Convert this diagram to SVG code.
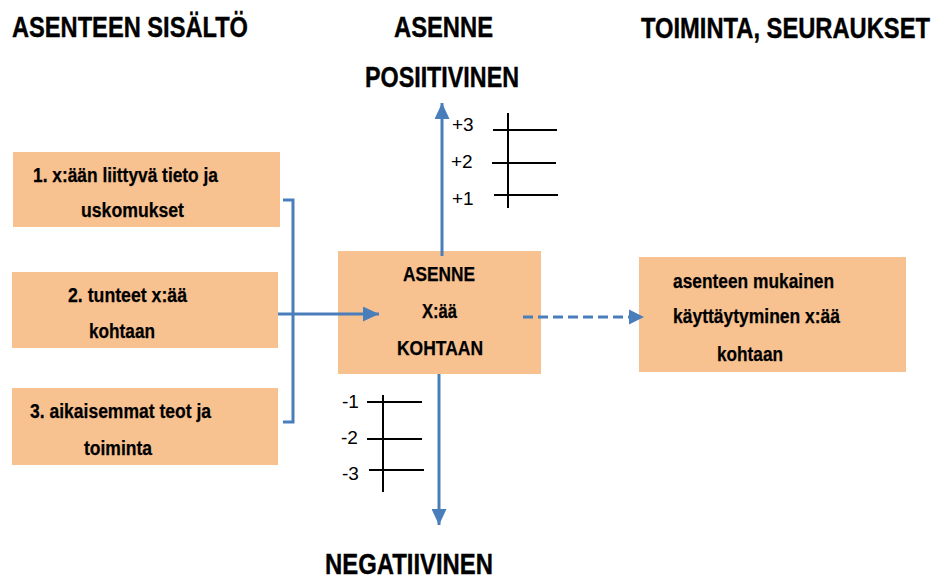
<svg xmlns="http://www.w3.org/2000/svg" width="937" height="581" viewBox="0 0 937 581">
<style>
.h{font-family:"Liberation Sans Narrow","Liberation Sans",Arial,sans-serif;font-weight:bold;font-size:29px;fill:#000;stroke:#000;stroke-width:0.4}
.t{font-family:"Liberation Sans Narrow","Liberation Sans",Arial,sans-serif;font-weight:bold;font-size:20px;fill:#000;stroke:#000;stroke-width:0.25}
.n{font-family:"Liberation Sans Narrow","Liberation Sans",Arial,sans-serif;font-size:19px;fill:#000}
.box{fill:#F8C190}
.blue{stroke:#4A7EBB;stroke-width:3;fill:none}
.blk{stroke:#000;stroke-width:2;fill:none}
</style>
<defs>
<marker id="ah" markerWidth="16" markerHeight="15" refX="16" refY="7.5" orient="auto" markerUnits="userSpaceOnUse">
<path d="M0,0 L16,7.5 L0,15 Z" fill="#4A7EBB"/>
</marker>
</defs>
<rect width="937" height="581" fill="#fff"/>
<g id="headers">
<text class="h" transform="translate(12,37) scale(0.8,1)" textLength="295" lengthAdjust="spacingAndGlyphs">ASENTEEN SISÄLTÖ</text>
<text class="h" transform="translate(394,37) scale(0.8,1)" textLength="123.75" lengthAdjust="spacingAndGlyphs">ASENNE</text>
<text class="h" transform="translate(641,38) scale(0.8,1)" textLength="361.25" lengthAdjust="spacingAndGlyphs">TOIMINTA, SEURAUKSET</text>
<text class="h" transform="translate(365,87) scale(0.8,1)" textLength="192.5" lengthAdjust="spacingAndGlyphs">POSIITIVINEN</text>
<text class="h" transform="translate(325,574) scale(0.8,1)" textLength="210" lengthAdjust="spacingAndGlyphs">NEGATIIVINEN</text>
</g>
<g id="box1">
<rect class="box" x="13" y="152" width="267" height="75"/>
<text class="t" x="33" y="182" textLength="185" lengthAdjust="spacingAndGlyphs">1. x:ään liittyvä tieto ja</text>
<text class="t" x="81" y="217" textLength="103" lengthAdjust="spacingAndGlyphs">uskomukset</text>
</g>
<g id="box2">
<rect class="box" x="12" y="272" width="266" height="76"/>
<text class="t" x="68" y="302" textLength="119" lengthAdjust="spacingAndGlyphs">2. tunteet x:ää</text>
<text class="t" x="89" y="338" textLength="66" lengthAdjust="spacingAndGlyphs">kohtaan</text>
</g>
<g id="box3">
<rect class="box" x="12" y="388" width="266" height="77"/>
<text class="t" x="30" y="418" textLength="181" lengthAdjust="spacingAndGlyphs">3. aikaisemmat teot ja</text>
<text class="t" x="84" y="455" textLength="68" lengthAdjust="spacingAndGlyphs">toiminta</text>
</g>
<g id="center">
<rect class="box" x="338" y="251" width="203" height="123"/>
<text class="t" x="403" y="281" textLength="72" lengthAdjust="spacingAndGlyphs">ASENNE</text>
<text class="t" x="422" y="318" textLength="35" lengthAdjust="spacingAndGlyphs">X:ää</text>
<text class="t" x="397" y="355" textLength="86" lengthAdjust="spacingAndGlyphs">KOHTAAN</text>
</g>
<g id="result">
<rect class="box" x="639" y="257" width="267" height="115"/>
<text class="t" x="673" y="288" textLength="161" lengthAdjust="spacingAndGlyphs">asenteen mukainen</text>
<text class="t" x="673" y="323" textLength="167" lengthAdjust="spacingAndGlyphs">käyttäytyminen x:ää</text>
<text class="t" x="717" y="361" textLength="66" lengthAdjust="spacingAndGlyphs">kohtaan</text>
</g>
<g id="scale-pos">
<line class="blk" x1="508" y1="113" x2="508" y2="208"/>
<line class="blk" x1="493" y1="130" x2="557" y2="130"/>
<line class="blk" x1="492" y1="163" x2="556" y2="163"/>
<line class="blk" x1="494" y1="195" x2="558" y2="195"/>
<text class="n" x="452" y="131">+3</text>
<text class="n" x="451" y="168">+2</text>
<text class="n" x="452" y="205">+1</text>
</g>
<g id="scale-neg">
<line class="blk" x1="383" y1="395" x2="383" y2="492"/>
<line class="blk" x1="367" y1="402" x2="422" y2="402"/>
<line class="blk" x1="367" y1="439" x2="422" y2="439"/>
<line class="blk" x1="369" y1="470" x2="424" y2="470"/>
<text class="n" x="342" y="408">-1</text>
<text class="n" x="341" y="444">-2</text>
<text class="n" x="342" y="480">-3</text>
</g>
<g id="connectors">
<path class="blue" d="M283,200 H293 V422 H283"/>
<line class="blue" x1="278" y1="314" x2="379" y2="314" marker-end="url(#ah)"/>
<line class="blue" x1="442" y1="256" x2="442" y2="103" marker-end="url(#ah)"/>
<line class="blue" x1="439" y1="374" x2="439" y2="525" marker-end="url(#ah)"/>
<line class="blue" x1="523" y1="317" x2="630" y2="317" stroke-dasharray="10,5"/>
<path d="M629,309.5 L644,317 L629,324.5 Z" fill="#4A7EBB"/>
</g>
</svg>
